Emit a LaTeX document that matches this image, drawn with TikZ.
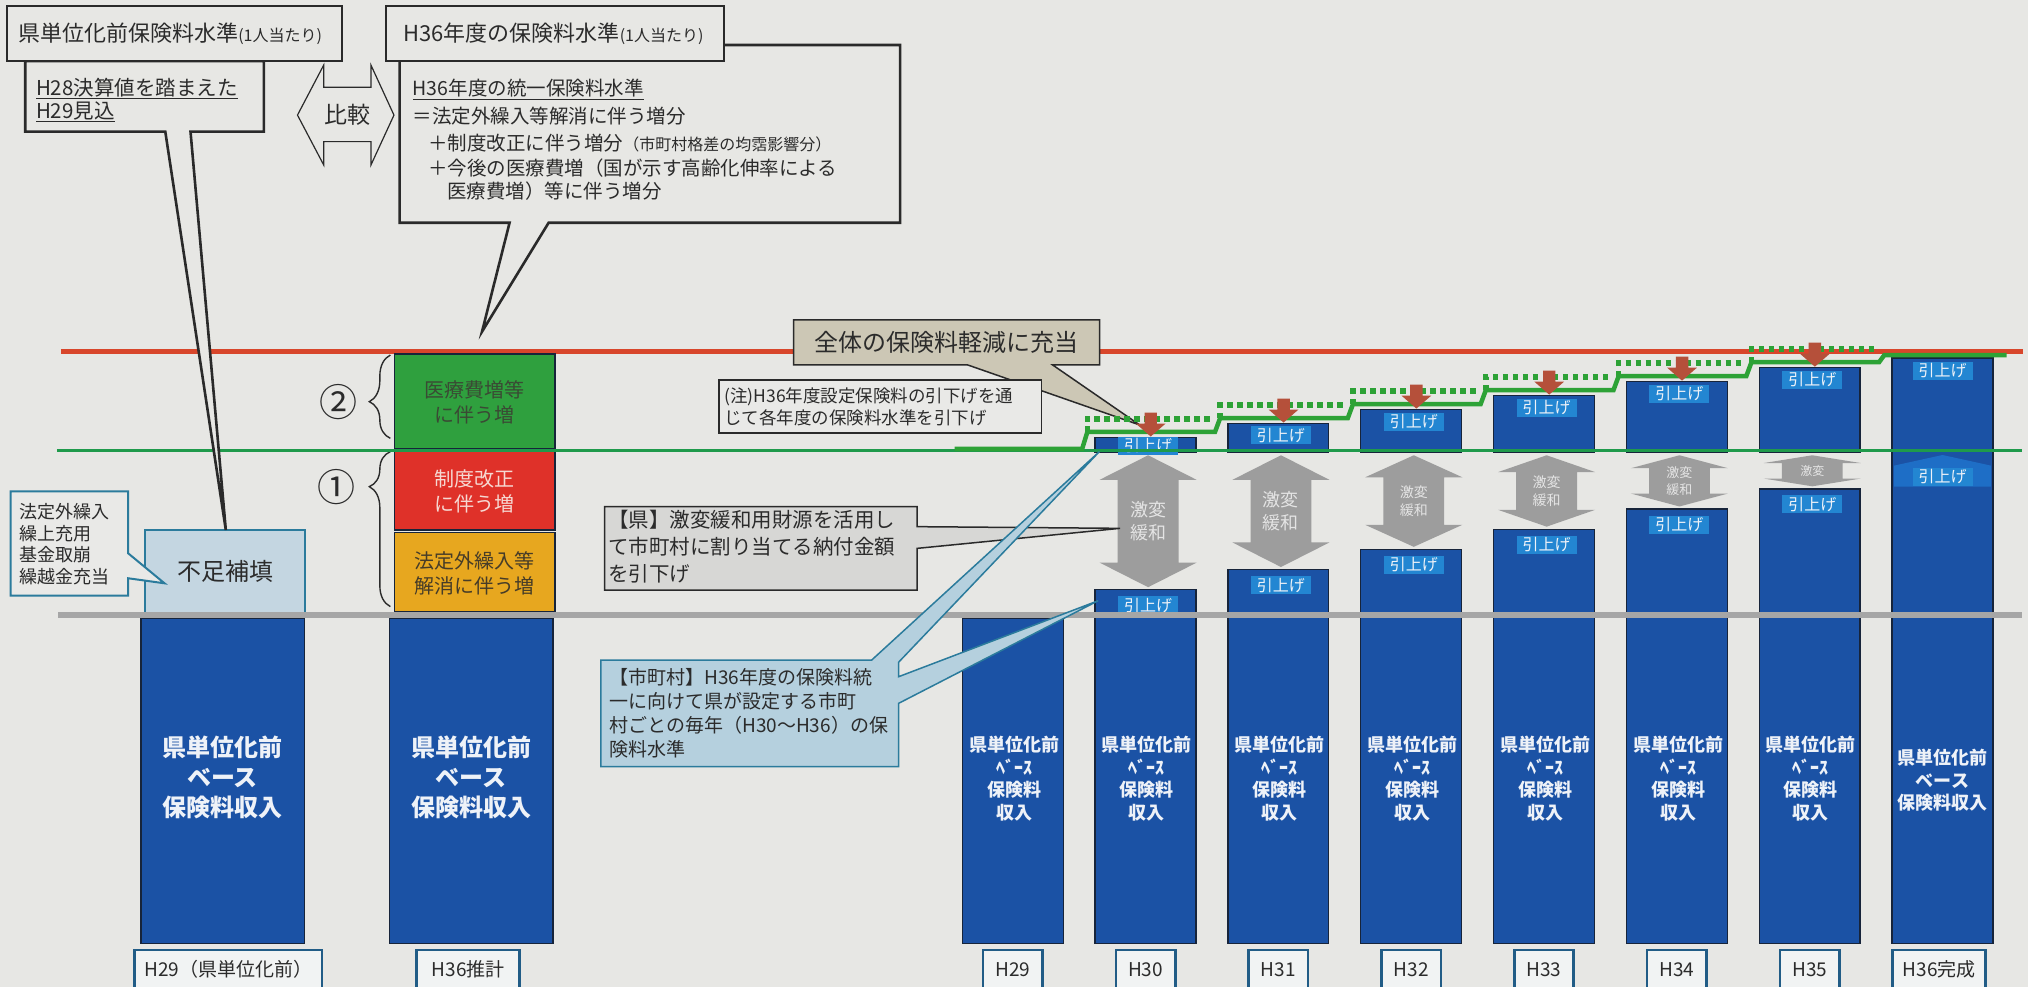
\documentclass[tikz,border=0pt]{standalone}
\usepackage{fontspec}
\setmainfont{Noto Sans CJK JP}
\usetikzlibrary{decorations.pathreplacing,fit}
\definecolor{bg}{HTML}{E7E7E4}
\definecolor{frame}{HTML}{2A2A2A}
\definecolor{barblue}{HTML}{1B52A5}
\definecolor{barline}{HTML}{17243A}
\definecolor{lblblue}{HTML}{2386D2}
\definecolor{uparrowc}{HTML}{1E6EC6}
\definecolor{tealc}{HTML}{2B7B9C}
\definecolor{lblframe}{HTML}{215C86}
\definecolor{lblfill}{HTML}{F1F3F3}
\definecolor{paleblue}{HTML}{C4D6E1}
\definecolor{calloutblue}{HTML}{B5D0DE}
\definecolor{redline}{HTML}{D8462B}
\definecolor{greenline}{HTML}{1F9A4B}
\definecolor{stepgreen}{HTML}{2DA236}
\definecolor{grayline}{HTML}{A6A6A6}
\definecolor{arrowgray}{HTML}{9D9D9D}
\definecolor{arrowtext}{HTML}{E4E4E4}
\definecolor{downred}{HTML}{B5503A}
\definecolor{blkgreen}{HTML}{2FA03E}
\definecolor{blkred}{HTML}{DF3129}
\definecolor{blkorange}{HTML}{E7A71F}
\definecolor{greentxt}{HTML}{3A4A34}
\definecolor{redtxt}{HTML}{F6D8D2}
\definecolor{orangetxt}{HTML}{463C28}
\definecolor{beige}{HTML}{CCC7B5}
\definecolor{graybox}{HTML}{D7D7D5}
\definecolor{notebox}{HTML}{E9E9E7}
\definecolor{txtdark}{HTML}{2B2B2B}
\definecolor{barwhite}{HTML}{EEF2F8}
\newcommand\jfs[2]{\fontsize{#1}{#2}\selectfont}
\tikzset{
  hdr/.style={draw=frame, line width=2.6pt, fill=bg},
  blk/.style={draw=barline, line width=1.2pt, inner sep=0pt},
  barbox/.style={draw=barline, line width=1.3pt, fill=barblue, inner sep=0pt},
  yrlbl/.style={draw=lblframe, line width=2.6pt, fill=lblfill, inner sep=0pt},
  yrtxt/.style={font=\jfs{19}{20}, text=txtdark, inner sep=0pt},
  hikiage/.style={fill=lblblue, text=barwhite, font=\jfs{16}{16}, inner sep=0pt, minimum width=60pt, minimum height=18pt},
  bartxt/.style={text=barwhite, font=\bfseries\jfs{18}{22.5}, align=center, inner sep=0pt},
  bigbartxt/.style={text=barwhite, font=\bfseries\jfs{24}{30}, align=center, inner sep=0pt},
  plain/.style={inner sep=0pt, text=txtdark, anchor=west},
  blocktxt/.style={font=\jfs{20}{25.5}, align=center, inner sep=0pt},
  gwtxt/.style={text=arrowtext, align=center, inner sep=0pt},
  stepline/.style={draw=stepgreen, line width=4.5pt},
  dotline/.style={draw=stepgreen, line width=5.5pt, dash pattern=on 5.5pt off 4.5pt},
  bracestyle/.style={decorate, decoration={brace, amplitude=21pt, aspect=#1}, draw=txtdark, line width=1.4pt},
}
\begin{document}
\begin{tikzpicture}[x=1.2934pt, y=-1.2934pt]
\useasboundingbox (0,0) rectangle (1568,763);
\fill[bg] (0,0) rectangle (1568,763);

% red reference line
\coordinate (redL) at (47,272);
\coordinate (redR) at (1564,272);
\draw[redline, line width=5pt] (redL) -- (redR);

% ---- left column: H29 (before unification)
\node[blk, fill=paleblue, draw=tealc, line width=2pt, fit={(112.4,409.8)(236.1,473.7)}] (fusoku) {};
\node[font=\jfs{24}{24}, text=txtdark, inner sep=0pt] (fusokut) at (fusoku.center) {不足補填};
\node[barbox, fit={(109,478)(235.3,729.5)}] (bar29) {};
\node[bigbartxt] (bar29t) at (172,601) {県単位化前\\ベース\\保険料収入};
\node[yrlbl, fit={(104.2,734.5)(249.1,770)}] (lbl29) {};
\node[yrtxt] (lbl29t) at (176.6,749.5) {H29（県単位化前）};

% ---- H36 estimate column
\node[blk, fill=blkgreen, fit={(304.8,273.7)(429.1,346.6)}] (blkG) {};
\node[blocktxt, text=greentxt] (blkGt) at (367,311) {医療費増等\\に伴う増};
\node[blk, fill=blkred, fit={(304.8,349)(429.1,409.8)}] (blkR) {};
\node[blocktxt, text=redtxt] (blkRt) at (367,380) {制度改正\\に伴う増};
\node[blk, fill=blkorange, fit={(304.8,411.8)(429.1,472.9)}] (blkO) {};
\node[blocktxt, text=orangetxt] (blkOt) at (367,443.3) {法定外繰入等\\解消に伴う増};
\node[barbox, fit={(301.2,478)(427.6,729.5)}] (bar36e) {};
\node[bigbartxt] (bar36et) at (364.4,601) {県単位化前\\ベース\\保険料収入};
\node[yrlbl, fit={(322,734.5)(401.8,770)}] (lbl36e) {};
\node[yrtxt] (lbl36et) at (362,749.5) {H36推計};

% braces and circled numbers
\draw[bracestyle=0.44] (301.8,338.9) -- (301.8,274.5);
\node[font=\jfs{38}{38}, text=txtdark, inner sep=0pt] (c2) at (262,310.6) {②};
\draw[bracestyle=0.774] (301.8,469) -- (301.8,349.2);
\node[font=\jfs{38}{38}, text=txtdark, inner sep=0pt] (c1) at (260.4,376.3) {①};

% ---- yearly bars H29..H35
\foreach \i/\yr in {0/H29,1/H30,2/H31,3/H32,4/H33,5/H34,6/H35}{
  \pgfmathsetmacro\cl{744+102.7*\i}
  \pgfmathsetmacro\cri{\cl+78}
  \pgfmathsetmacro\cc{\cl+39}
  \pgfmathsetmacro\cb{\i==0 ? 478 : 456-15.6*(\i-1)}
  \node[barbox, fit={(\cl,\cb)(\cri,729.5)}] (bar\i) {};
  \node[bartxt] (bt\i) at (\cc+1,602) {県単位化前\\ﾍﾞｰｽ\\保険料\\収入};
  \node[yrlbl, fit={(\cc-23,734.5)(\cc+23,770)}] (yl\i) {};
  \node[yrtxt] (yt\i) at (\cc,749.5) {\yr};
}
% top boxes and labels H30..H35
\foreach \k in {1,...,6}{
  \pgfmathsetmacro\cl{744+102.7*\k}
  \pgfmathsetmacro\cri{\cl+78}
  \pgfmathsetmacro\cc{\cl+39}
  \pgfmathsetmacro\ct{338-10.8*(\k-1)}
  \pgfmathsetmacro\cb{456-15.6*(\k-1)}
  \pgfmathsetmacro\ty{\k==1 ? 344.5 : \ct+9.5}
  \node[barbox, fit={(\cl,\ct)(\cri,350)}] (top\k) {};
  \node[hikiage] (ht\k) at (\cc+2,\ty) {引上げ};
  \node[hikiage] (hb\k) at (\cc+2,\cb+12) {引上げ};
}
% ---- H36 completed
\node[barbox, fit={(1462.9,276.8)(1540.9,729.5)}] (bar7) {};
\fill[uparrowc] (1464.5,376.3) -- (1464.5,360) -- (1501.9,351.8) -- (1539.3,360) -- (1539.3,376.3) -- cycle;
\node[hikiage] (ht7) at (1501.9,286.5) {引上げ};
\node[hikiage] (hu7) at (1501.9,368.5) {引上げ};
\node[bartxt] (bt7) at (1501.9,603.5) {県単位化前\\ベース\\保険料収入};
\node[yrlbl, fit={(1463.4,734.5)(1535.3,770)}] (yl7) {};
\node[yrtxt] (yt7) at (1499.4,749.5) {H36完成};

% gray double arrows
\foreach \k/\h/\fz/\txt in {1/19/18/{激変\\緩和},2/19/18/{激変\\緩和},3/17/14/{激変\\緩和},4/13/14/{激変\\緩和},5/10/13/{激変\\緩和},6/6/12/{激変}}{
  \pgfmathsetmacro\cc{744+102.7*\k+41}
  \pgfmathsetmacro\cb{456-15.6*(\k-1)-2}
  \pgfmathsetmacro\my{(352+\cb)/2}
  \pgfmathsetmacro\lz{\fz*1.3}
  \fill[arrowgray] (\cc,352) -- (\cc+37.5,352+\h) -- (\cc+23.5,352+\h) -- (\cc+23.5,\cb-\h) -- (\cc+37.5,\cb-\h) -- (\cc,\cb) -- (\cc-37.5,\cb-\h) -- (\cc-23.5,\cb-\h) -- (\cc-23.5,352+\h) -- (\cc-37.5,352+\h) -- cycle;
  \node[gwtxt, font=\jfs{\fz}{\lz}] (gw\k) at (\cc,\my) {\txt};
}

% gray and green horizontal lines
\coordinate (grayL) at (45,475.5);
\coordinate (grayR) at (1563,475.5);
\draw[grayline, line width=6pt] (grayL) -- (grayR);
\coordinate (greenL) at (44,348);
\coordinate (greenR) at (1563,348);
\draw[greenline, line width=3pt] (greenL) -- (greenR);

% ---- callout: overall reduction
\coordinate (zentaiTip) at (881.2,328.6);
\draw[fill=beige, draw=frame, line width=1.5pt] (613.7,247.4) -- (850.2,247.4) -- (850.2,282.2) -- (813.9,282.2) -- (zentaiTip) -- (748.3,282.2) -- (613.7,282.2) -- cycle;
\node[font=\jfs{24}{24}, text=txtdark, inner sep=0pt] (zentai) at (732,265) {全体の保険料軽減に充当};
\node[draw=frame, line width=1.8pt, fill=notebox, inner sep=0pt, fit={(555.7,293.8)(805.3,335)}] (chu) {};
\node[plain, font=\jfs{17.5}{17.5}] (chu1) at (560,307.2) {(注)H36年度設定保険料の引下げを通};
\node[plain, font=\jfs{17.5}{17.5}] (chu2) at (560,323.4) {じて各年度の保険料水準を引下げ};

% ---- stepped green lines and red down arrows
\draw[stepline, line join=miter] (738,347) -- (836.7,347) -- (840.7,334) -- (939.4,334) -- (943.4,323.2) -- (1042.1,323.2) -- (1046.1,312.4) -- (1144.8,312.4) -- (1148.8,301.6) -- (1247.5,301.6) -- (1251.5,290.8) -- (1350.2,290.8) -- (1354.2,280) -- (1452.9,280) -- (1456.9,274.5) -- (1551.5,274.5);
\foreach \k in {1,...,6}{
  \pgfmathsetmacro\sx{744+102.7*\k-6}
  \pgfmathsetmacro\sxn{744+102.7*(\k+1)-12}
  \pgfmathsetmacro\ct{338-10.8*(\k-1)}
  \draw[dotline] (\sx,\ct-4) -- (\sx,\ct-14) -- (\sxn,\ct-14);
  \pgfmathsetmacro\ax{744+102.7*\k+43}
  \fill[downred] (\ax-4.8,\ct-19) -- (\ax+4.8,\ct-19) -- (\ax+4.8,\ct-10.5) -- (\ax+11.5,\ct-10.5) -- (\ax,\ct-0.5) -- (\ax-11.5,\ct-10.5) -- (\ax-4.8,\ct-10.5) -- cycle;
}

% ---- callout: prefecture
\coordinate (kenTip) at (866,408.5);
\draw[fill=graybox, draw=frame, line width=1.5pt] (467.4,391.7) -- (709,391.7) -- (709,407.2) -- (kenTip) -- (709,424) -- (709,456.2) -- (467.4,456.2) -- cycle;
\node[plain, font=\jfs{20.5}{20.5}] (ken1) at (470,401.5) {【県】激変緩和用財源を活用し};
\node[plain, font=\jfs{20.5}{20.5}] (ken2) at (470,422.5) {て市町村に割り当てる納付金額};
\node[plain, font=\jfs{20.5}{20.5}] (ken3) at (470,443.5) {を引下げ};

% ---- callout: municipalities
\coordinate (shiTip1) at (850,349.2);
\coordinate (shiTip2) at (849,464.5);
\draw[fill=calloutblue, draw=tealc, line width=1.5pt] (464.5,510.3) -- (674,510.3) -- (shiTip1) -- (694.8,512) -- (694.8,523.2) -- (shiTip2) -- (694.8,543.8) -- (694.8,592.8) -- (464.5,592.8) -- cycle;
\node[plain, font=\jfs{19}{19}] (shi1) at (471,524) {【市町村】H36年度の保険料統};
\node[plain, font=\jfs{19}{19}] (shi2) at (471,542.5) {一に向けて県が設定する市町};
\node[plain, font=\jfs{19}{19}] (shi3) at (471,561) {村ごとの毎年（H30〜H36）の保};
\node[plain, font=\jfs{19}{19}] (shi4) at (471,579.5) {険料水準};

% ---- small callout: fund sources
\coordinate (smallTip) at (127.2,451);
\draw[fill=notebox, draw=tealc, line width=2pt] (8.3,380) -- (99.1,380) -- (99.1,427.8) -- (smallTip) -- (99.1,447.1) -- (99.1,460.6) -- (8.3,460.6) -- cycle;
\node[plain, font=\jfs{18}{18}] (sm1) at (14.8,395.6) {法定外繰入};
\node[plain, font=\jfs{18}{18}] (sm2) at (14.8,412.3) {繰上充用};
\node[plain, font=\jfs{18}{18}] (sm3) at (14.8,429.1) {基金取崩};
\node[plain, font=\jfs{18}{18}] (sm4) at (14.8,445.9) {繰越金充当};

% ---- header callouts
\coordinate (aTip) at (174.6,409.8);
\draw[hdr] (19.5,47.2) -- (204,47.2) -- (204,101.8) -- (147.3,101.8) -- (aTip) -- (127.8,101.8) -- (19.5,101.8) -- cycle;
\node[plain, font=\jfs{20.5}{20.5}] (a21) at (27.7,68.3) {\underline{H28決算値を踏まえた}};
\node[plain, font=\jfs{20.5}{20.5}] (a22) at (27.7,86.3) {\underline{H29見込}};
\node[hdr, inner sep=0pt, fit={(5.3,4.6)(264.5,47.2)}] (boxA) {};
\node[plain, font=\jfs{22}{22}] (boxAt) at (14,26) {県単位化前保険料水準{\jfs{16}{16}(1人当たり)}};

\coordinate (bTip) at (372.7,256.4);
\draw[hdr] (309,34.8) -- (696,34.8) -- (696,172.2) -- (424.2,172.2) -- (bTip) -- (394,172.2) -- (309,172.2) -- cycle;
\node[hdr, inner sep=0pt, fit={(298.5,4.6)(559.9,47.2)}] (boxB) {};
\node[plain, font=\jfs{22}{22}] (boxBt) at (311.7,26) {H36年度の保険料水準{\jfs{16}{16}(1人当たり)}};
\node[plain, font=\jfs{19.5}{19.5}] (b21) at (319,69) {\underline{H36年度の統一保険料水準}};
\node[plain, font=\jfs{19.5}{19.5}] (b22) at (319,90) {＝法定外繰入等解消に伴う増分};
\node[plain, font=\jfs{19.5}{19.5}] (b23) at (331,111) {＋制度改正に伴う増分{\jfs{16}{16}（市町村格差の均霑影響分）}};
\node[plain, font=\jfs{19.5}{19.5}] (b24) at (331,130) {＋今後の医療費増（国が示す高齢化伸率による};
\node[plain, font=\jfs{19.5}{19.5}] (b25) at (345.6,148) {医療費増）等に伴う増分};

% compare arrow
\draw[fill=bg, draw=frame, line width=1.2pt] (230,89) -- (250.3,50.3) -- (250.3,67.5) -- (286.8,67.5) -- (286.8,50.3) -- (304.6,89) -- (286.8,127.6) -- (286.8,109.5) -- (250.3,109.5) -- (250.3,127.6) -- cycle;
\node[font=\jfs{23}{23}, text=txtdark, inner sep=0pt] (hikaku) at (268.5,89) {比較};
\end{tikzpicture}
\end{document}
